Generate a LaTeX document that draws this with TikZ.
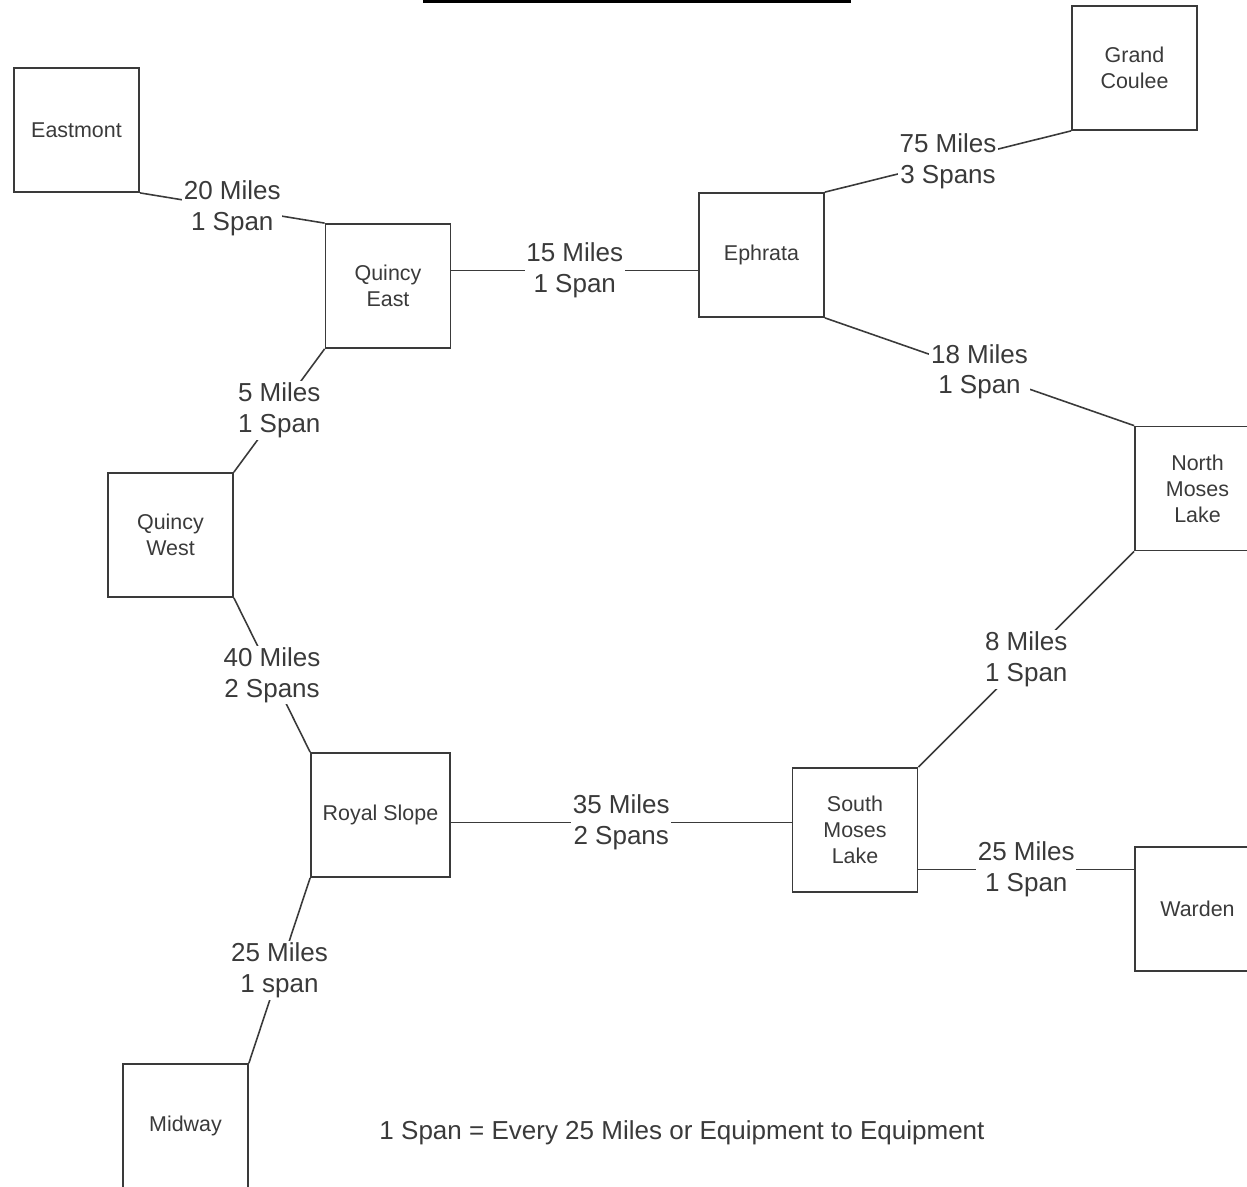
\documentclass[tikz,border=0pt]{standalone}
\usepackage{fontspec}
\setmainfont{Liberation Sans}
\usetikzlibrary{calc}
\definecolor{ink}{HTML}{3A3A3A}

\begin{document}
\begin{tikzpicture}[site/.style={draw=ink,line width=1pt,minimum width=2.5cm,minimum height=2.48cm,align=center,text=ink,font=\fontsize{12.2}{14.8}\selectfont},
  dist/.style={fill=white,inner sep=1pt,align=center,text=ink,font=\fontsize{14.8}{17.6}\selectfont},
  wire/.style={draw=ink,line width=0.9pt}]
\clip (0,0) rectangle (24.94,-23.72);
\draw[line width=1.6pt] (8.46,-0.03) -- (17.02,-0.03);

\node[site] (eastmont) at (1.53,-2.60) {Eastmont};
\node[site] (grandcoulee) at (22.69,-1.36) {Grand\\Coulee};
\node[site] (quincyeast) at (7.76,-5.72) {Quincy\\East};
\node[site] (ephrata) at (15.23,-5.10) {Ephrata};
\node[site] (northml) at (23.95,-9.77) {North\\Moses\\Lake};
\node[site] (quincywest) at (3.41,-10.70) {Quincy\\West};
\node[site,minimum width=2.78cm] (royalslope) at (7.61,-16.30) {Royal Slope};
\node[site] (southml) at (17.10,-16.60) {South\\Moses\\Lake};
\node[site] (warden) at (23.95,-18.18) {Warden};
\node[site] (midway) at (3.71,-22.52) {Midway};

\coordinate (m1) at ($(quincyeast.east)!.5!(ephrata.west)$);
\coordinate (m2) at ($(royalslope.east)!.5!(southml.west)$);
\coordinate (m3) at ($(southml.east)!.5!(warden.west)$);

\draw[wire] (eastmont.south east) -- node[dist] {20 Miles\\1 Span} (quincyeast.north west);
\draw[wire] (quincyeast.east |- m1) -- node[dist] {15 Miles\\1 Span} (ephrata.west |- m1);
\draw[wire] (ephrata.north east) -- node[dist] {75 Miles\\3 Spans} (grandcoulee.south west);
\draw[wire] (ephrata.south east) -- node[dist] {18 Miles\\1 Span} (northml.north west);
\draw[wire] (quincyeast.south west) -- node[dist] {5 Miles\\1 Span} (quincywest.north east);
\draw[wire] (quincywest.south east) -- node[dist] {40 Miles\\2 Spans} (royalslope.north west);
\draw[wire] (royalslope.east |- m2) -- node[dist] {35 Miles\\2 Spans} (southml.west |- m2);
\draw[wire] (southml.north east) -- node[dist] {8 Miles\\1 Span} (northml.south west);
\draw[wire] (southml.east |- m3) -- node[dist] {25 Miles\\1 Span} (warden.west |- m3);
\draw[wire] (royalslope.south west) -- node[dist] {25 Miles\\1 span} (midway.north east);

\node[dist] (note) at (13.64,-22.66) {1 Span = Every 25 Miles or Equipment to Equipment};
\end{tikzpicture}
\end{document}
